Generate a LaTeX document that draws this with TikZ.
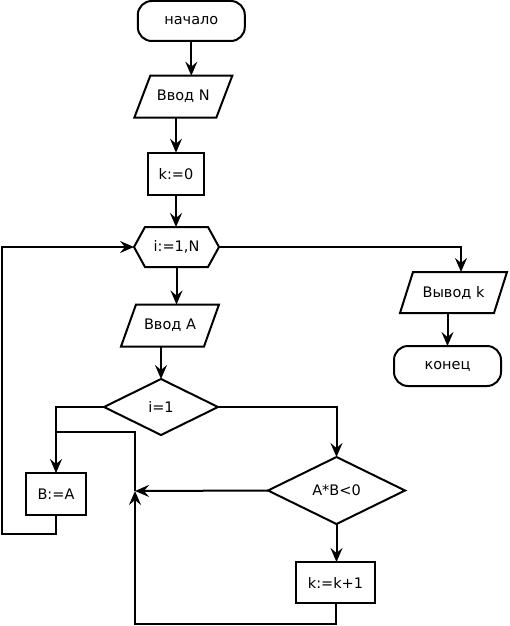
\documentclass[tikz,border=0pt]{standalone}
\usepackage{fontspec}
\setmainfont{DejaVu Sans}
\usetikzlibrary{arrows.meta,calc}
\tikzset{
  every picture/.style={x=1pt,y=-1pt},
  ln/.style={line width=2pt,line join=miter},
  arr/.style={ln,-{Stealth[length=14pt,width=12pt,inset=5pt]}},
  txt/.style={font=\fontsize{14.5}{17}\selectfont,inner sep=0pt,outer sep=0pt},
  term/.style={txt,draw,ln,rounded corners=14pt,minimum width=107pt,minimum height=40pt},
  procbox/.style={txt,draw,ln,minimum height=42pt},
  bare/.style={txt,minimum height=42pt}
}
\newcommand{\para}[2]{% node name, offset
  \draw[ln] ([xshift=#2pt]#1.north west) -- (#1.north east) -- ([xshift=-#2pt]#1.south east) -- (#1.south west) -- cycle;}
\newcommand{\diam}[1]{%
  \draw[ln] (#1.west) -- (#1.north) -- (#1.east) -- (#1.south) -- cycle;}
\begin{document}
\begin{tikzpicture}
\useasboundingbox (0,0) rectangle (509,626);
% nodes
\node[term] (start) at (191.3,21) {начало};
\node[bare,minimum width=98pt] (vvodN) at (183.3,96.7) {Ввод N};
\para{vvodN}{16}
\node[procbox,minimum width=56pt] (k0) at (176,173.7) {k:=0};
\node[txt,minimum width=85pt,minimum height=40pt] (hex) at (176.5,247) {i:=1,N};
\draw[ln] (hex.west) -- ([xshift=11pt]hex.north west) -- ([xshift=-11pt]hex.north east) -- (hex.east) -- ([xshift=-11pt]hex.south east) -- ([xshift=11pt]hex.south west) -- cycle;
\node[bare,minimum width=98pt] (vvodA) at (170,325.5) {Ввод A};
\para{vvodA}{15}
\node[txt,minimum width=114pt,minimum height=56pt] (i1) at (161,407) {i=1};
\diam{i1}
\node[procbox,minimum width=60pt] (BA) at (56,494) {B:=A};
\node[txt,minimum width=137pt,minimum height=67pt] (AB) at (336.5,490.5) {A*B<0};
\diam{AB}
\node[procbox,minimum width=79pt,minimum height=41pt] (kk) at (335.5,582.5) {k:=k+1};
\node[bare,minimum width=107pt,minimum height=41pt] (outk) at (453.5,292.5) {Вывод k};
\para{outk}{13}
\node[term] (end) at (447.5,366) {конец};
% helper coordinates
\coordinate (m) at (135,491);
\coordinate (bl) at (135,624);
\coordinate (mt) at (135,432);
\coordinate (lb) at (1.5,534);
% connectors
\draw[arr] (start.south) -- (start.south |- vvodN.north);
\draw[arr] (k0.north |- vvodN.south) -- (k0.north);
\draw[arr] (k0.south) -- (k0.south |- hex.north);
\draw[arr] (hex.south) -- (hex.south |- vvodA.north);
\draw[arr] (i1.north |- vvodA.south) -- (i1.north);
\draw[arr] (i1.west) -| (BA.north);
\draw[arr] (i1.east) -| (AB.north);
\draw[arr] (AB.south) -- (AB.south |- kk.north);
\draw[arr] (AB.west) -- (m);
\draw[arr] (kk.south) |- (bl) -- (m);
\draw[ln] (m) -- (mt) -- (mt -| BA.north);
\draw[arr] (BA.south) |- (lb) |- (hex.west);
\draw[arr] (hex.east) -| ([xshift=7.5pt]outk.north);
\draw[arr] (end.north |- outk.south) -- (end.north);
\end{tikzpicture}
\end{document}
